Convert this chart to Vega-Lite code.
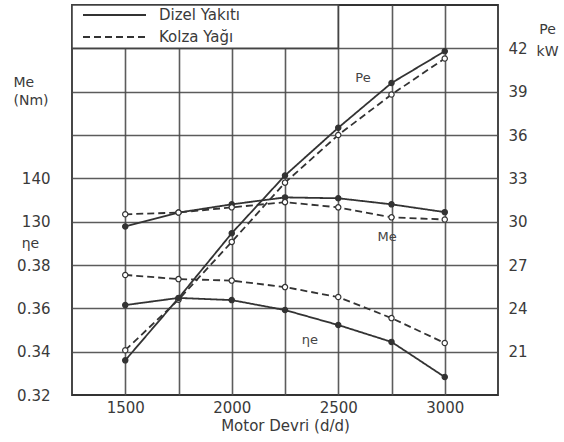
{
  "$schema": "https://vega.github.io/schema/vega-lite/v6.json",
  "width": 426,
  "height": 390,
  "autosize": {"type": "none"},
  "padding": {"left": 72, "top": 5, "right": 66, "bottom": 47},
  "background": "white",
  "config": {
    "font": "DejaVu Sans",
    "view": {"stroke": "#333", "strokeWidth": 1.8},
    "axis": {
      "labelFont": "DejaVu Sans",
      "labelFontSize": 15,
      "labelColor": "#3a3a3a",
      "titleFont": "DejaVu Sans",
      "titleFontWeight": "normal",
      "titleColor": "#3a3a3a",
      "gridColor": "#4a4a4a",
      "gridWidth": 1.6,
      "gridOpacity": 0.9,
      "domain": false,
      "ticks": false,
      "tickSize": 0
    },
    "legend": {
      "orient": "none",
      "legendX": 10,
      "legendY": 0,
      "padding": 0,
      "rowPadding": 2,
      "clipHeight": 20,
      "symbolType": "stroke",
      "symbolSize": 3969,
      "symbolStrokeWidth": 1.8,
      "symbolStrokeColor": "#333",
      "labelFont": "DejaVu Sans",
      "labelFontSize": 15,
      "labelColor": "#3a3a3a",
      "labelOffset": 12,
      "title": null
    }
  },
  "datasets": {
    "engine": [
      {"rpm": 1500, "fuel": "Dizel Yakıtı", "Pe": 20.4, "Me": 128.9, "ne": 0.3615},
      {"rpm": 1750, "fuel": "Dizel Yakıtı", "Pe": 24.7, "Me": 132.1, "ne": 0.3648},
      {"rpm": 2000, "fuel": "Dizel Yakıtı", "Pe": 29.2, "Me": 134.0, "ne": 0.3638},
      {"rpm": 2250, "fuel": "Dizel Yakıtı", "Pe": 33.2, "Me": 135.6, "ne": 0.3592},
      {"rpm": 2500, "fuel": "Dizel Yakıtı", "Pe": 36.5, "Me": 135.4, "ne": 0.3523},
      {"rpm": 2750, "fuel": "Dizel Yakıtı", "Pe": 39.6, "Me": 134.0, "ne": 0.3445},
      {"rpm": 3000, "fuel": "Dizel Yakıtı", "Pe": 41.8, "Me": 132.2, "ne": 0.3283},
      {"rpm": 1500, "fuel": "Kolza Yağı", "Pe": 21.1, "Me": 131.7, "ne": 0.3754},
      {"rpm": 1750, "fuel": "Kolza Yağı", "Pe": 24.6, "Me": 132.1, "ne": 0.3735},
      {"rpm": 2000, "fuel": "Kolza Yağı", "Pe": 28.6, "Me": 133.3, "ne": 0.3728},
      {"rpm": 2250, "fuel": "Kolza Yağı", "Pe": 32.7, "Me": 134.5, "ne": 0.3698},
      {"rpm": 2500, "fuel": "Kolza Yağı", "Pe": 36.0, "Me": 133.3, "ne": 0.3652},
      {"rpm": 2750, "fuel": "Kolza Yağı", "Pe": 38.8, "Me": 131.0, "ne": 0.3555},
      {"rpm": 3000, "fuel": "Kolza Yağı", "Pe": 41.3, "Me": 130.5, "ne": 0.344}
    ],
    "notes": [
      {"label": "Pe", "rpm": 2616, "value": 39.95},
      {"label": "Me", "rpm": 2729, "value": 126.4},
      {"label": "ηe", "rpm": 2367, "value": 0.3454}
    ],
    "box": [
      {"rpm": 1250, "rpm2": 2500, "lo": 42, "hi": 45}
    ]
  },
  "encoding": {
    "x": {
      "field": "rpm",
      "type": "quantitative",
      "scale": {"domain": [1250, 3250], "nice": false, "zero": false},
      "axis": {
        "values": [1500, 1750, 2000, 2250, 2500, 2750, 3000],
        "format": "d",
        "labelExpr": "datum.value % 500 === 0 ? datum.label : ''",
        "labelPadding": 5,
        "grid": true,
        "title": "Motor Devri (d/d)",
        "titleFontSize": 15,
        "titlePadding": 3
      }
    }
  },
  "layer": [
    {
      "layer": [
        {
          "data": {"name": "box"},
          "mark": {"type": "rect", "fill": "white", "stroke": "#444", "strokeWidth": 1.6},
          "encoding": {
            "x": {"field": "rpm", "type": "quantitative"},
            "x2": {"field": "rpm2"},
            "y": {"field": "lo", "type": "quantitative"},
            "y2": {"field": "hi"}
          }
        },
        {
          "data": {"name": "engine"},
          "mark": {"type": "line", "color": "#333", "strokeWidth": 1.8},
          "encoding": {
            "y": {"field": "Pe", "type": "quantitative"},
            "strokeDash": {
              "field": "fuel",
              "type": "nominal",
              "scale": {"domain": ["Dizel Yakıtı", "Kolza Yağı"], "range": [[1, 0], [7, 4]]}
            }
          }
        },
        {
          "data": {"name": "engine"},
          "mark": {"type": "circle", "size": 28, "stroke": "#333", "strokeWidth": 1.2, "opacity": 1},
          "encoding": {
            "y": {"field": "Pe", "type": "quantitative"},
            "fill": {"condition": {"test": "datum.fuel === 'Dizel Yakıtı'", "value": "#333"}, "value": "white"}
          }
        },
        {
          "data": {"name": "notes"},
          "transform": [{"filter": "datum.label === 'Pe'"}],
          "mark": {"type": "text", "fontSize": 13, "color": "#444"},
          "encoding": {
            "y": {"field": "value", "type": "quantitative"},
            "text": {"field": "label"}
          }
        }
      ],
      "encoding": {
        "y": {
          "type": "quantitative",
          "scale": {"domain": [18, 45], "nice": false, "zero": false},
          "axis": {
            "orient": "right",
            "values": [21, 24, 27, 30, 33, 36, 39, 42],
            "grid": true,
            "labelPadding": 10,
            "title": ["Pe", "kW"],
            "titleFontSize": 14,
            "titleAngle": 0,
            "titleAlign": "center",
            "titleBaseline": "top",
            "titleX": 49,
            "titleY": 17,
            "titleLineHeight": 22
          }
        }
      }
    },
    {
      "layer": [
        {
          "data": {"name": "engine"},
          "mark": {"type": "line", "color": "#333", "strokeWidth": 1.8},
          "encoding": {
            "y": {"field": "Me", "type": "quantitative"},
            "strokeDash": {"field": "fuel", "type": "nominal"}
          }
        },
        {
          "data": {"name": "engine"},
          "mark": {"type": "circle", "size": 28, "stroke": "#333", "strokeWidth": 1.2, "opacity": 1},
          "encoding": {
            "y": {"field": "Me", "type": "quantitative"},
            "fill": {"condition": {"test": "datum.fuel === 'Dizel Yakıtı'", "value": "#333"}, "value": "white"}
          }
        },
        {
          "data": {"name": "notes"},
          "transform": [{"filter": "datum.label === 'Me'"}],
          "mark": {"type": "text", "fontSize": 13, "color": "#444"},
          "encoding": {
            "y": {"field": "value", "type": "quantitative"},
            "text": {"field": "label"}
          }
        }
      ],
      "encoding": {
        "y": {
          "type": "quantitative",
          "scale": {"domain": [90, 180], "nice": false, "zero": false},
          "axis": {
            "orient": "left",
            "values": [130, 140],
            "grid": false,
            "labelPadding": 22,
            "title": ["Me", "(Nm)"],
            "titleFontSize": 14,
            "titleAngle": 0,
            "titleAlign": "left",
            "titleBaseline": "top",
            "titleX": -59,
            "titleY": 70,
            "titleLineHeight": 18
          }
        }
      }
    },
    {
      "layer": [
        {
          "data": {"name": "engine"},
          "mark": {"type": "line", "color": "#333", "strokeWidth": 1.8},
          "encoding": {
            "y": {"field": "ne", "type": "quantitative"},
            "strokeDash": {"field": "fuel", "type": "nominal"}
          }
        },
        {
          "data": {"name": "engine"},
          "mark": {"type": "circle", "size": 28, "stroke": "#333", "strokeWidth": 1.2, "opacity": 1},
          "encoding": {
            "y": {"field": "ne", "type": "quantitative"},
            "fill": {"condition": {"test": "datum.fuel === 'Dizel Yakıtı'", "value": "#333"}, "value": "white"}
          }
        },
        {
          "data": {"name": "notes"},
          "transform": [{"filter": "datum.label === 'ηe'"}],
          "mark": {"type": "text", "fontSize": 13, "color": "#444"},
          "encoding": {
            "y": {"field": "value", "type": "quantitative"},
            "text": {"field": "label"}
          }
        }
      ],
      "encoding": {
        "y": {
          "type": "quantitative",
          "scale": {"domain": [0.32, 0.5], "nice": false, "zero": false},
          "axis": {
            "orient": "left",
            "values": [0.32, 0.34, 0.36, 0.38],
            "format": ".2f",
            "grid": false,
            "labelPadding": 22,
            "title": "ηe",
            "titleFontSize": 14,
            "titleAngle": 0,
            "titleAlign": "center",
            "titleBaseline": "middle",
            "titleX": -42,
            "titleY": 238
          }
        }
      }
    }
  ],
  "resolve": {"scale": {"y": "independent"}, "axis": {"y": "independent"}}
}
